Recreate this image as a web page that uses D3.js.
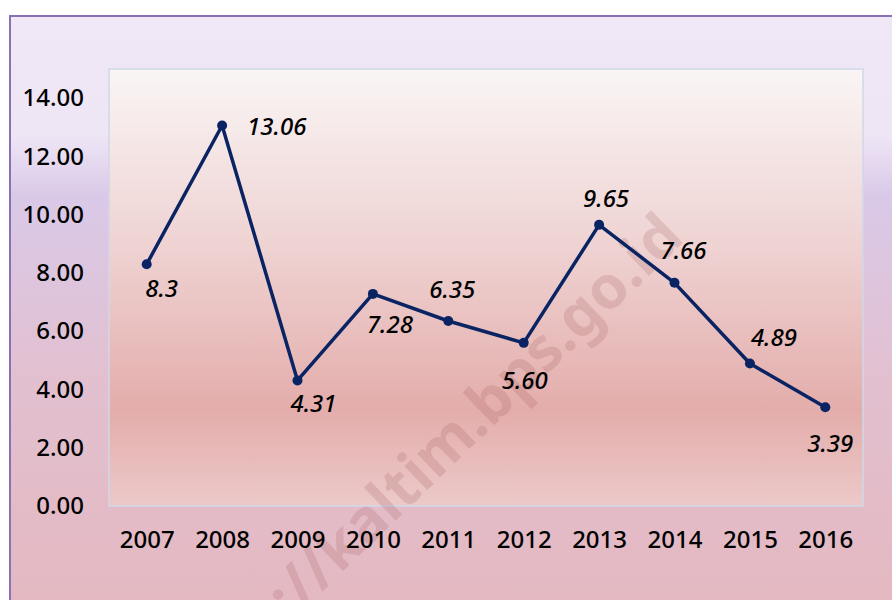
<!DOCTYPE html>
<html>
<head>
<meta charset="utf-8">
<script src="https://cdn.jsdelivr.net/npm/d3@7"></script>
<style>
  html, body { margin: 0; padding: 0; background: #fff; }
  svg { display: block; font-family: 'Noto Sans', 'Open Sans', sans-serif; }
</style>
</head>
<body>
<svg width="892" height="600"></svg>
<script>
'use strict';

const years = ['2007', '2008', '2009', '2010', '2011', '2012', '2013', '2014', '2015', '2016'];
const values = [8.3, 13.06, 4.31, 7.28, 6.35, 5.60, 9.65, 7.66, 4.89, 3.39];
const valueLabels = ['8.3', '13.06', '4.31', '7.28', '6.35', '5.60', '9.65', '7.66', '4.89', '3.39'];
// where each data label sits relative to its point: [dx, dy, anchor]
const labelPlace = [
  [15, 33, 'middle'], [25, 9, 'start'], [16, 32, 'middle'], [17, 39, 'middle'],
  [4, -23, 'middle'], [1, 46, 'middle'], [7, -18, 'middle'], [9, -24, 'middle'],
  [24, -18, 'middle'], [5, 45, 'middle']
];
const yTicks = [0, 2, 4, 6, 8, 10, 12, 14];

const svg = d3.select('svg');
const plot = { left: 109, right: 863, top: 69, bottom: 506 };

const defs = svg.append('defs');
const outerGrad = defs.append('linearGradient')
  .attr('id', 'outerGrad').attr('x1', 0).attr('y1', 0).attr('x2', 0).attr('y2', 1);
[[0, '#f0e8f6'], [0.2, '#eee5f5'], [0.3, '#d9c9e8'], [0.6, '#e2c0d0'], [1, '#e4b8c0']]
  .forEach(s => outerGrad.append('stop').attr('offset', s[0]).attr('stop-color', s[1]));

const plotGrad = defs.append('linearGradient')
  .attr('id', 'plotGrad').attr('x1', 0).attr('y1', 0).attr('x2', 0).attr('y2', 1);
[[0, '#faf5f5'], [0.4, '#efd3d3'], [0.78, '#e3adab'], [1, '#ecc9c9']]
  .forEach(s => plotGrad.append('stop').attr('offset', s[0]).attr('stop-color', s[1]));

svg.append('rect')
  .attr('x', 10).attr('y', 16)
  .attr('width', 900).attr('height', 600)
  .attr('fill', 'url(#outerGrad)')
  .attr('stroke', '#8a70b6')
  .attr('stroke-width', 2);

svg.append('rect')
  .attr('x', plot.left).attr('y', plot.top)
  .attr('width', plot.right - plot.left).attr('height', plot.bottom - plot.top)
  .attr('fill', 'url(#plotGrad)')
  .attr('stroke', '#cfd8e8')
  .attr('stroke-width', 1.5);

const x = d3.scalePoint()
  .domain(years)
  .range([plot.left, plot.right])
  .padding(0.5);

const y = d3.scaleLinear()
  .domain([0, 15])
  .range([plot.bottom, plot.top]);

// watermark
svg.append('text')
  .attr('transform', 'translate(686,240) rotate(-44)')
  .attr('text-anchor', 'end')
  .attr('font-size', 60)
  .attr('font-weight', 'bold')
  .attr('fill', 'rgba(150,80,80,0.18)')
  .text('http://kaltim.bps.go.id');

const yAxis = svg.append('g')
  .attr('transform', `translate(${plot.left},0)`)
  .call(d3.axisLeft(y).tickValues(yTicks).tickFormat(d3.format('.2f')).tickSize(0).tickPadding(25));
yAxis.select('.domain').remove();
yAxis.selectAll('text')
  .attr('font-size', 24)
  .attr('font-weight', 500)
  .attr('font-family', "'Noto Sans', sans-serif")
  .attr('fill', '#000');

const xAxis = svg.append('g')
  .attr('transform', `translate(0,${plot.bottom})`)
  .call(d3.axisBottom(x).tickSize(0).tickPadding(25));
xAxis.select('.domain').remove();
xAxis.selectAll('text')
  .attr('font-size', 24)
  .attr('font-weight', 500)
  .attr('font-family', "'Noto Sans', sans-serif")
  .attr('fill', '#000');

const data = years.map((yr, i) => ({ year: yr, value: values[i], label: valueLabels[i], place: labelPlace[i] }));

svg.append('path')
  .datum(data)
  .attr('fill', 'none')
  .attr('stroke', '#0a2463')
  .attr('stroke-width', 3.5)
  .attr('stroke-linejoin', 'round')
  .attr('d', d3.line().x(d => x(d.year)).y(d => y(d.value)));

svg.append('g')
  .selectAll('circle')
  .data(data)
  .enter().append('circle')
    .attr('cx', d => x(d.year))
    .attr('cy', d => y(d.value))
    .attr('r', 5)
    .attr('fill', '#0a2463');

svg.append('g')
  .selectAll('text')
  .data(data)
  .enter().append('text')
    .attr('x', d => x(d.year) + d.place[0])
    .attr('y', d => y(d.value) + d.place[1])
    .attr('text-anchor', d => d.place[2])
    .attr('font-size', 24)
    .attr('font-weight', 500)
    .attr('font-style', 'italic')
    .attr('fill', '#000')
    .text(d => d.label);
</script>
</body>
</html>
